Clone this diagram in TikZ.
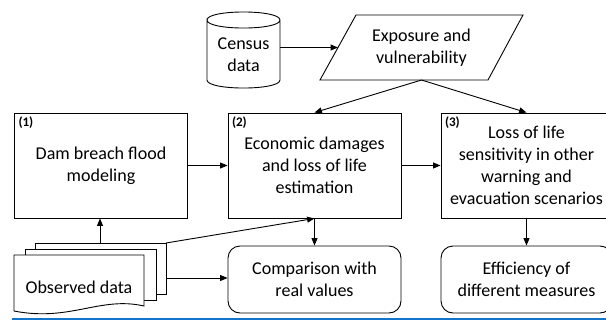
\documentclass[tikz,border=0pt]{standalone}
\usepackage{fontspec}
\setmainfont{Carlito}
\usetikzlibrary{arrows.meta,calc}
\definecolor{rulebl}{RGB}{21,115,208}
\def\px{0.61pt}

\begin{document}
\begin{tikzpicture}[x=0.61pt, y=-0.61pt, line width=0.55pt,
    every node/.style={font=\fontsize{11}{13.4}\selectfont, align=center},
    box/.style={draw, minimum width=173*\px, minimum height=105*\px, inner sep=0pt},
    res/.style={box, minimum height=67*\px, rounded corners=12*\px},
    num/.style={anchor=north west, font=\bfseries\fontsize{8}{9}\selectfont, inner sep=4*\px},
    arr/.style={-{Triangle[length=4.5pt,width=3.6pt]}}]

    \useasboundingbox (0,0) rectangle (606,321);

    % census data cylinder
    \draw (207,20) .. controls (207,9.3) and (280,9.3) .. (280,20) .. controls (280,30.7) and (207,30.7) .. (207,20)
        -- (207,80) .. controls (207,90.7) and (280,90.7) .. (280,80) -- (280,20);
    \node (census) at (243.5,55) {Census\\data};
    % exposure parallelogram
    \draw (320,80) -- (356,15) -- (523,15) -- (488,80) -- cycle;
    \node (expo) at (421.5,47.5) {Exposure and\\vulnerability};
    \coordinate (censusout) at (280,47.5);
    \coordinate (expoin) at (338,47.5);
    \coordinate (expoout) at (421.5,80);

    \node[box] (dam) at (101,165.5) {Dam breach flood\\modeling};
    \node[box] (econ) at (314.5,165.5) {Economic damages\\and loss of life\\estimation};
    \node[box, minimum width=171*\px] (loss) at (526.5,165.5) {Loss of life\\sensitivity in other\\warning and\\evacuation scenarios};
    \node[res] (comp) at (314.5,279.5) {Comparison with\\real values};
    \node[res, minimum width=171*\px] (eff) at (526.5,279.5) {Efficiency of\\different measures};

    \foreach \b/\n in {dam/1, econ/2, loss/3} \node[num] (lab\n) at (\b.north west) {(\n)};

    % observed data, stacked documents
    \foreach \dx/\dy in {21/12, 11/6} \draw[fill=white] (14+\dx,255-\dy) rectangle ++(131,51);
    \draw[fill=white] (14,255) -- (144,255) -- (144,306) .. controls (100,296) and (70,322) .. (14,311) -- cycle;
    \node (obs) at (79,287.5) {Observed data};
    \coordinate (obstop) at (100,243);
    \coordinate (obscorner) at (166,243);
    \coordinate (obsright) at (166,278);

    \draw[arr] (censusout) -- (expoin);
    \draw[arr] (expoout) -- (econ.north);
    \draw[arr] (expoout) -- (loss.north);
    \draw[arr] (dam) -- (econ);
    \draw[arr] (econ) -- (loss);
    \draw[arr] (loss) -- (eff);
    \draw[arr] (econ) -- (comp);
    \draw[arr] (obstop) -- (dam.south -| obstop);
    \draw[arr] (obscorner) -- (econ.south);
    \draw[arr] (obsright) -- (comp.west |- obsright);

    \draw[rulebl, line width=2.5*\px] (12,319) -- (606,319);

\end{tikzpicture}
\end{document}
